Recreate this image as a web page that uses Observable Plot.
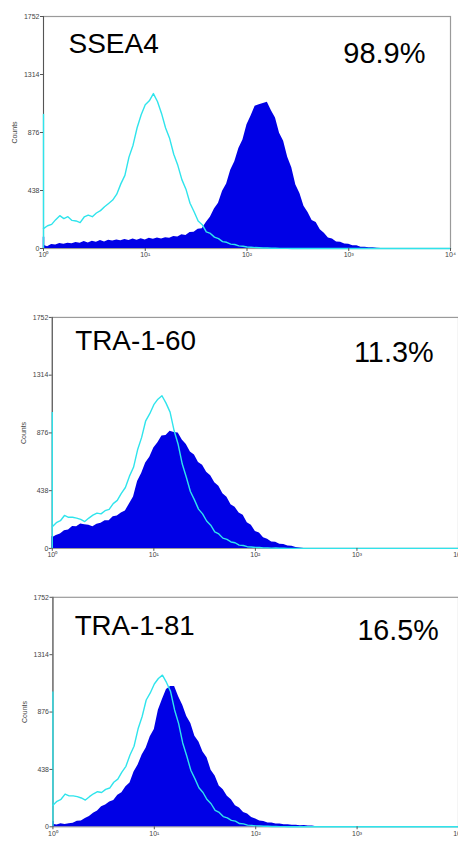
<!DOCTYPE html>
<html>
<head>
<meta charset="utf-8">
<script src="https://cdn.jsdelivr.net/npm/d3@7"></script>
<script src="https://cdn.jsdelivr.net/npm/@observablehq/plot@0.6"></script>
<style>
  html, body { margin: 0; padding: 0; background: #fff; width: 458px; height: 843px; overflow: hidden; }
  .panel { position: absolute; left: 0; }
</style>
</head>
<body>
<div id="panel-ssea4" class="panel" style="top:0px"></div>
<div id="panel-tra160" class="panel" style="top:300px"></div>
<div id="panel-tra181" class="panel" style="top:580px"></div>
<script>
// Flow cytometry histograms: counts per channel on a 4-decade log fluorescence axis.
// Channels are spaced every 0.04 decade starting at 10^0.

const channelStep = 0.04;

const yTicks = [0, 438, 876, 1314, 1752];
const xTicks = [1, 10, 100, 1000, 10000];
const xTickLabels = ["10\u2070", "10\u00b9", "10\u00b2", "10\u00b3", "10\u2074"];

const markers = ["SSEA4", "TRA-1-60", "TRA-1-81"];
const positivePct = ["98.9%", "11.3%", "16.5%"];

// First channel (pile-up at 10^0), drawn as a spike on the axis
const controlFirstBin = [1013, 1030, 1030];
const stainedFirstBin = [85, 90, 40];

// Isotype control, SSEA4 run
const ssea4Control = [
  150, 172, 182, 218, 248, 226, 240, 212, 208, 196,
  238, 252, 240, 268, 286, 315, 340, 366, 410, 488,
  552, 690, 780, 912, 1010, 1085, 1115, 1170, 1110, 1020,
  910, 830, 712, 628, 520, 448, 342, 278, 208, 180,
  125, 114, 86, 75, 52, 47, 33, 30, 20, 17,
  11, 10, 7, 6, 4, 4, 2, 3, 1, 1,
  1, 0
];

// SSEA4 stained
const ssea4Stained = [
  25, 14, 30, 26, 38, 33, 40, 36, 46, 40,
  52, 42, 55, 47, 60, 50, 62, 56, 64, 58,
  68, 60, 72, 62, 74, 64, 78, 70, 80, 72,
  82, 78, 90, 86, 104, 98, 120, 122, 146, 150,
  196, 236, 298, 342, 432, 488, 590, 656, 755, 820,
  935, 1000, 1075, 1085, 1095, 1105, 1040, 985, 870, 810,
  690, 610, 480, 415, 320, 272, 212, 196, 142, 116,
  80, 72, 50, 48, 34, 32, 20, 20, 10, 10,
  5, 5, 2, 0
];

// Isotype control, TRA runs
const traControl = [
  165, 195, 210, 250, 236, 236, 230, 220, 204, 230,
  252, 268, 262, 286, 296, 340, 364, 418, 462, 548,
  615, 748, 842, 968, 1022, 1090, 1132, 1158, 1102, 1034,
  892, 788, 640, 540, 432, 368, 298, 262, 208, 176,
  126, 110, 78, 68, 49, 43, 25, 22, 13, 11,
  7, 7, 4, 4, 2, 3, 1, 1, 0
];

// TRA-1-60 stained
const tra160Stained = [
  80, 98, 110, 134, 140, 166, 165, 186, 180, 176,
  164, 184, 190, 210, 210, 240, 246, 268, 284, 336,
  390, 508, 568, 648, 692, 762, 802, 852, 856, 888,
  880, 876, 822, 788, 732, 708, 652, 630, 578, 552,
  498, 472, 414, 388, 332, 312, 268, 252, 194, 176,
  128, 116, 80, 70, 48, 46, 32, 30, 18, 16,
  7, 4, 0
];

// TRA-1-81 stained
const tra181Stained = [
  20, 14, 24, 18, 24, 28, 42, 44, 64, 78,
  104, 120, 154, 166, 190, 200, 240, 260, 306, 334,
  418, 472, 548, 602, 688, 742, 890, 972, 1048, 1072,
  1072, 992, 928, 842, 788, 692, 648, 572, 528, 432,
  388, 312, 282, 234, 206, 160, 144, 110, 98, 72,
  60, 44, 40, 30, 29, 21, 21, 15, 16, 11,
  12, 8, 10, 6, 7, 0
];

const BLUE = "#0000e6";
const CYAN = "#2fe4ec";

function toRows(counts) {
  const rows = counts.map((c, i) => ({x: Math.pow(10, i * channelStep), count: c}));
  rows.push({x: 1e4, count: 0});
  return rows;
}

function histogramPanel(el, cfg) {
  const chart = Plot.plot({
    width: cfg.width,
    height: cfg.height,
    marginLeft: cfg.marginLeft,
    marginRight: 0,
    marginTop: cfg.marginTop,
    marginBottom: cfg.height - cfg.marginTop - 232,
    style: {fontFamily: "'Liberation Sans', Arial, sans-serif", fontSize: "7px", color: "#444", background: "white", overflow: "visible"},
    x: {type: "log", domain: [1, 1e4]},
    y: {domain: [0, 1752]},
    marks: [
      Plot.frame({stroke: "#9a9a9a", strokeWidth: 1.2}),
      Plot.areaY(toRows(cfg.stained), {x: "x", y: "count", fill: BLUE}),
      Plot.ruleX([cfg.stainedFirst], {x: 1, y1: 0, y2: d => d, stroke: BLUE, strokeWidth: 1.5}),
      Plot.ruleX([1], {stroke: "#555", strokeWidth: 1}),
      Plot.lineY(toRows(cfg.control), {x: "x", y: "count", stroke: CYAN, strokeWidth: 1.4}),
      Plot.ruleX([cfg.controlFirst], {x: 1, y1: 0, y2: d => d, stroke: CYAN, strokeWidth: 1.4}),
      Plot.axisX({ticks: xTicks, tickFormat: d => xTickLabels[xTicks.indexOf(d)], tickSize: 3, tickPadding: 1, label: null, stroke: "#555"}),
      Plot.axisY({ticks: yTicks, tickFormat: d => String(d), tickSize: 3, tickPadding: 1, label: "Counts", labelAnchor: "center", labelOffset: 31, labelArrow: "none", stroke: "#555"}),
      Plot.text([cfg.name], {text: d => d, frameAnchor: "top-left", dx: cfg.nameDx, dy: cfg.nameDy, lineAnchor: "bottom", textAnchor: "start", fontSize: 28, fill: "#000"}),
      Plot.text([cfg.pct], {text: d => d, frameAnchor: "top-right", dx: cfg.pctDx, dy: cfg.pctDy, lineAnchor: "bottom", textAnchor: "end", fontSize: 29, fill: "#000"})
    ]
  });
  el.appendChild(chart);
}

histogramPanel(document.getElementById("panel-ssea4"), {
  width: 450, height: 270, marginLeft: 43, marginTop: 16,
  stained: ssea4Stained, control: ssea4Control,
  stainedFirst: stainedFirstBin[0], controlFirst: controlFirstBin[0],
  name: markers[0], pct: positivePct[0],
  nameDx: 25, nameDy: 36, pctDx: -25, pctDy: 46
});

histogramPanel(document.getElementById("panel-tra160"), {
  width: 460, height: 269, marginLeft: 52, marginTop: 17,
  stained: tra160Stained, control: traControl,
  stainedFirst: stainedFirstBin[1], controlFirst: controlFirstBin[1],
  name: markers[1], pct: positivePct[1],
  nameDx: 23, nameDy: 33, pctDx: -25, pctDy: 45
});

histogramPanel(document.getElementById("panel-tra181"), {
  width: 463, height: 263, marginLeft: 53, marginTop: 17,
  stained: tra181Stained, control: traControl,
  stainedFirst: stainedFirstBin[2], controlFirst: controlFirstBin[2],
  name: markers[2], pct: positivePct[2],
  nameDx: 22, nameDy: 38, pctDx: -20, pctDy: 43
});
</script>
</body>
</html>
